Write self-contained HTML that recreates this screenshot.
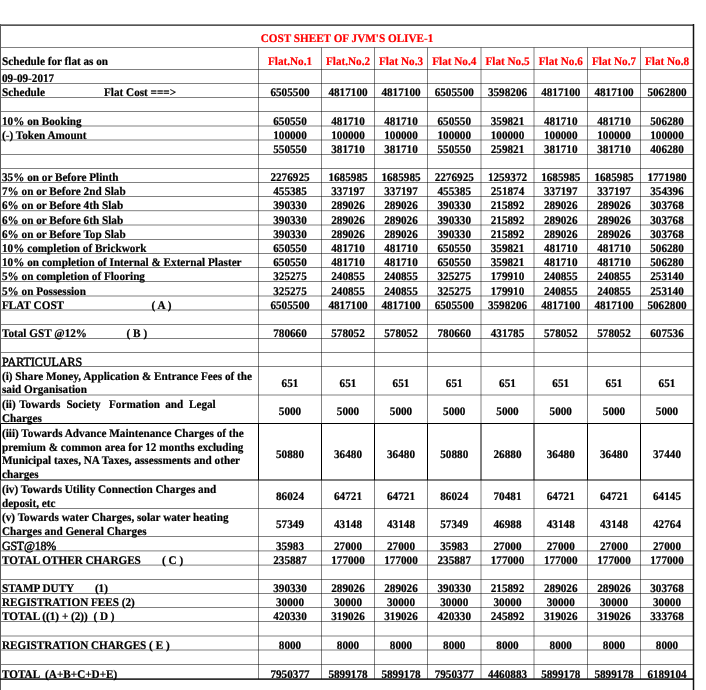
<!DOCTYPE html>
<html><head><meta charset="utf-8"><style>
html,body{margin:0;padding:0;background:#fff;}
body{width:706px;height:690px;position:relative;overflow:hidden;font-family:"Liberation Serif",serif;font-weight:bold;font-size:11.2px;line-height:14.0px;color:#000;}
.t,.c{position:absolute;white-space:pre;text-rendering:geometricPrecision;transform:scaleY(1.04);transform-origin:0 10px;}
.c{text-align:center;}
.t,.c{-webkit-text-stroke:0.2px currentColor;}
.n{font-weight:normal;font-size:12px;-webkit-text-stroke:0.45px #000;}
.r{color:#f00;}
svg{position:absolute;left:0;top:0;}
#w{position:absolute;left:0;top:0;width:706px;height:690px;will-change:transform;}
</style></head><body>
<div id="w">
<svg width="706" height="690" viewBox="0 0 706 690">
<line x1="0.5" y1="47.5" x2="693.5" y2="47.5" stroke="#000" stroke-width="0.5"/>
<line x1="0.5" y1="69.5" x2="693.5" y2="69.5" stroke="#000" stroke-width="0.5"/>
<line x1="0.5" y1="83.5" x2="693.5" y2="83.5" stroke="#000" stroke-width="0.5"/>
<line x1="0.5" y1="97.5" x2="693.5" y2="97.5" stroke="#000" stroke-width="0.5"/>
<line x1="0.5" y1="111.5" x2="693.5" y2="111.5" stroke="#000" stroke-width="0.5"/>
<line x1="0.5" y1="126.0" x2="693.5" y2="126.0" stroke="#000" stroke-width="0.5"/>
<line x1="0.5" y1="140.0" x2="693.5" y2="140.0" stroke="#000" stroke-width="0.5"/>
<line x1="0.5" y1="154.5" x2="693.5" y2="154.5" stroke="#000" stroke-width="0.5"/>
<line x1="0.5" y1="168.5" x2="693.5" y2="168.5" stroke="#000" stroke-width="0.5"/>
<line x1="0.5" y1="182.5" x2="693.5" y2="182.5" stroke="#000" stroke-width="0.5"/>
<line x1="0.5" y1="196.5" x2="693.5" y2="196.5" stroke="#000" stroke-width="0.5"/>
<line x1="0.5" y1="210.7" x2="693.5" y2="210.7" stroke="#000" stroke-width="0.5"/>
<line x1="0.5" y1="225.0" x2="693.5" y2="225.0" stroke="#000" stroke-width="0.5"/>
<line x1="0.5" y1="239.5" x2="693.5" y2="239.5" stroke="#000" stroke-width="0.5"/>
<line x1="0.5" y1="253.5" x2="693.5" y2="253.5" stroke="#000" stroke-width="0.5"/>
<line x1="0.5" y1="267.5" x2="693.5" y2="267.5" stroke="#000" stroke-width="0.5"/>
<line x1="0.5" y1="281.5" x2="693.5" y2="281.5" stroke="#000" stroke-width="0.5"/>
<line x1="0.5" y1="296.0" x2="693.5" y2="296.0" stroke="#000" stroke-width="0.5"/>
<line x1="0.5" y1="310.0" x2="693.5" y2="310.0" stroke="#000" stroke-width="0.5"/>
<line x1="0.5" y1="324.5" x2="693.5" y2="324.5" stroke="#000" stroke-width="0.5"/>
<line x1="0.5" y1="338.5" x2="693.5" y2="338.5" stroke="#000" stroke-width="0.5"/>
<line x1="0.5" y1="352.5" x2="693.5" y2="352.5" stroke="#000" stroke-width="0.5"/>
<line x1="0.5" y1="366.5" x2="693.5" y2="366.5" stroke="#000" stroke-width="0.5"/>
<line x1="0.5" y1="395.0" x2="693.5" y2="395.0" stroke="#000" stroke-width="0.5"/>
<line x1="0.5" y1="423.5" x2="693.5" y2="423.5" stroke="#000" stroke-width="1.0"/>
<line x1="0.5" y1="480.0" x2="693.5" y2="480.0" stroke="#000" stroke-width="1.0"/>
<line x1="0.5" y1="508.5" x2="693.5" y2="508.5" stroke="#000" stroke-width="0.5"/>
<line x1="0.5" y1="536.5" x2="693.5" y2="536.5" stroke="#000" stroke-width="0.5"/>
<line x1="0.5" y1="550.9" x2="693.5" y2="550.9" stroke="#000" stroke-width="0.5"/>
<line x1="0.5" y1="565.1" x2="693.5" y2="565.1" stroke="#000" stroke-width="0.5"/>
<line x1="0.5" y1="579.5" x2="693.5" y2="579.5" stroke="#000" stroke-width="0.5"/>
<line x1="0.5" y1="593.5" x2="693.5" y2="593.5" stroke="#000" stroke-width="0.5"/>
<line x1="0.5" y1="607.5" x2="693.5" y2="607.5" stroke="#000" stroke-width="0.5"/>
<line x1="0.5" y1="621.5" x2="693.5" y2="621.5" stroke="#000" stroke-width="0.5"/>
<line x1="0.5" y1="636.0" x2="693.5" y2="636.0" stroke="#000" stroke-width="0.5"/>
<line x1="0.5" y1="650.0" x2="693.5" y2="650.0" stroke="#000" stroke-width="0.5"/>
<line x1="0.5" y1="664.5" x2="693.5" y2="664.5" stroke="#000" stroke-width="0.5"/>
<line x1="258.5" y1="47.5" x2="258.5" y2="423.5" stroke="#000" stroke-width="0.5"/>
<line x1="258.5" y1="423.5" x2="258.5" y2="480.0" stroke="#000" stroke-width="1.0"/>
<line x1="258.5" y1="480.0" x2="258.5" y2="679.1" stroke="#000" stroke-width="0.5"/>
<line x1="321.5" y1="47.5" x2="321.5" y2="423.5" stroke="#000" stroke-width="0.5"/>
<line x1="321.5" y1="423.5" x2="321.5" y2="480.0" stroke="#000" stroke-width="1.0"/>
<line x1="321.5" y1="480.0" x2="321.5" y2="679.1" stroke="#000" stroke-width="0.5"/>
<line x1="374.5" y1="47.5" x2="374.5" y2="423.5" stroke="#000" stroke-width="0.5"/>
<line x1="374.5" y1="423.5" x2="374.5" y2="480.0" stroke="#000" stroke-width="1.0"/>
<line x1="374.5" y1="480.0" x2="374.5" y2="679.1" stroke="#000" stroke-width="0.5"/>
<line x1="427.5" y1="47.5" x2="427.5" y2="423.5" stroke="#000" stroke-width="0.5"/>
<line x1="427.5" y1="423.5" x2="427.5" y2="480.0" stroke="#000" stroke-width="1.0"/>
<line x1="427.5" y1="480.0" x2="427.5" y2="679.1" stroke="#000" stroke-width="0.5"/>
<line x1="481.0" y1="47.5" x2="481.0" y2="423.5" stroke="#000" stroke-width="0.5"/>
<line x1="481.0" y1="423.5" x2="481.0" y2="480.0" stroke="#000" stroke-width="1.0"/>
<line x1="481.0" y1="480.0" x2="481.0" y2="679.1" stroke="#000" stroke-width="0.5"/>
<line x1="534.0" y1="47.5" x2="534.0" y2="423.5" stroke="#000" stroke-width="0.5"/>
<line x1="534.0" y1="423.5" x2="534.0" y2="480.0" stroke="#000" stroke-width="1.0"/>
<line x1="534.0" y1="480.0" x2="534.0" y2="679.1" stroke="#000" stroke-width="0.5"/>
<line x1="587.5" y1="47.5" x2="587.5" y2="423.5" stroke="#000" stroke-width="0.5"/>
<line x1="587.5" y1="423.5" x2="587.5" y2="480.0" stroke="#000" stroke-width="1.0"/>
<line x1="587.5" y1="480.0" x2="587.5" y2="679.1" stroke="#000" stroke-width="0.5"/>
<line x1="640.5" y1="47.5" x2="640.5" y2="423.5" stroke="#000" stroke-width="0.5"/>
<line x1="640.5" y1="423.5" x2="640.5" y2="480.0" stroke="#000" stroke-width="1.0"/>
<line x1="640.5" y1="480.0" x2="640.5" y2="679.1" stroke="#000" stroke-width="0.5"/>
<rect x="0" y="24" width="693.5" height="1" fill="#8a8a8a"/>
<rect x="0" y="25" width="693.5" height="1" fill="#555"/>
<rect x="0" y="24" width="1" height="666" fill="#5a5a5a"/>
<rect x="692.75" y="24" width="1.5" height="666" fill="#111"/>
<rect x="0" y="678.4" width="693.5" height="1.4" fill="#000"/>
<rect x="0" y="423.5" width="1" height="56.5" fill="#000"/>
</svg>
<div class="t r" style="left:260.7px;top:31.75px">COST SHEET OF JVM'S OLIVE-1</div>
<div class="t" style="left:2.0px;top:54.75px">Schedule for flat as on</div>
<div class="c r" style="left:258.5px;width:63.0px;top:54.75px">Flat.No.1</div>
<div class="c r" style="left:321.5px;width:53.0px;top:54.75px">Flat.No.2</div>
<div class="c r" style="left:374.5px;width:53.0px;top:54.75px">Flat No.3</div>
<div class="c r" style="left:427.5px;width:53.5px;top:54.75px">Flat No.4</div>
<div class="c r" style="left:481.0px;width:53.0px;top:54.75px">Flat No.5</div>
<div class="c r" style="left:534.0px;width:53.5px;top:54.75px">Flat No.6</div>
<div class="c r" style="left:587.5px;width:53.0px;top:54.75px">Flat No.7</div>
<div class="c r" style="left:640.5px;width:53.0px;top:54.75px">Flat No.8</div>
<div class="t" style="left:2.0px;top:71.75px">09-09-2017</div>
<div class="t" style="left:2.0px;top:85.75px">Schedule</div>
<div class="t" style="left:104px;top:85.75px">Flat Cost ===&gt;</div>
<div class="c" style="left:258.5px;width:63.0px;top:85.75px">6505500</div>
<div class="c" style="left:321.5px;width:53.0px;top:85.75px">4817100</div>
<div class="c" style="left:374.5px;width:53.0px;top:85.75px">4817100</div>
<div class="c" style="left:427.5px;width:53.5px;top:85.75px">6505500</div>
<div class="c" style="left:481.0px;width:53.0px;top:85.75px">3598206</div>
<div class="c" style="left:534.0px;width:53.5px;top:85.75px">4817100</div>
<div class="c" style="left:587.5px;width:53.0px;top:85.75px">4817100</div>
<div class="c" style="left:640.5px;width:53.0px;top:85.75px">5062800</div>
<div class="t" style="left:2.0px;top:114.75px">10% on Booking</div>
<div class="c" style="left:258.5px;width:63.0px;top:114.75px">650550</div>
<div class="c" style="left:321.5px;width:53.0px;top:114.75px">481710</div>
<div class="c" style="left:374.5px;width:53.0px;top:114.75px">481710</div>
<div class="c" style="left:427.5px;width:53.5px;top:114.75px">650550</div>
<div class="c" style="left:481.0px;width:53.0px;top:114.75px">359821</div>
<div class="c" style="left:534.0px;width:53.5px;top:114.75px">481710</div>
<div class="c" style="left:587.5px;width:53.0px;top:114.75px">481710</div>
<div class="c" style="left:640.5px;width:53.0px;top:114.75px">506280</div>
<div class="t" style="left:2.0px;top:128.75px">(-) Token Amount</div>
<div class="c" style="left:258.5px;width:63.0px;top:128.75px">100000</div>
<div class="c" style="left:321.5px;width:53.0px;top:128.75px">100000</div>
<div class="c" style="left:374.5px;width:53.0px;top:128.75px">100000</div>
<div class="c" style="left:427.5px;width:53.5px;top:128.75px">100000</div>
<div class="c" style="left:481.0px;width:53.0px;top:128.75px">100000</div>
<div class="c" style="left:534.0px;width:53.5px;top:128.75px">100000</div>
<div class="c" style="left:587.5px;width:53.0px;top:128.75px">100000</div>
<div class="c" style="left:640.5px;width:53.0px;top:128.75px">100000</div>
<div class="c" style="left:258.5px;width:63.0px;top:142.75px">550550</div>
<div class="c" style="left:321.5px;width:53.0px;top:142.75px">381710</div>
<div class="c" style="left:374.5px;width:53.0px;top:142.75px">381710</div>
<div class="c" style="left:427.5px;width:53.5px;top:142.75px">550550</div>
<div class="c" style="left:481.0px;width:53.0px;top:142.75px">259821</div>
<div class="c" style="left:534.0px;width:53.5px;top:142.75px">381710</div>
<div class="c" style="left:587.5px;width:53.0px;top:142.75px">381710</div>
<div class="c" style="left:640.5px;width:53.0px;top:142.75px">406280</div>
<div class="t" style="left:2.0px;top:170.75px">35% on or Before Plinth</div>
<div class="c" style="left:258.5px;width:63.0px;top:170.75px">2276925</div>
<div class="c" style="left:321.5px;width:53.0px;top:170.75px">1685985</div>
<div class="c" style="left:374.5px;width:53.0px;top:170.75px">1685985</div>
<div class="c" style="left:427.5px;width:53.5px;top:170.75px">2276925</div>
<div class="c" style="left:481.0px;width:53.0px;top:170.75px">1259372</div>
<div class="c" style="left:534.0px;width:53.5px;top:170.75px">1685985</div>
<div class="c" style="left:587.5px;width:53.0px;top:170.75px">1685985</div>
<div class="c" style="left:640.5px;width:53.0px;top:170.75px">1771980</div>
<div class="t" style="left:2.0px;top:184.75px">7% on or Before 2nd Slab</div>
<div class="c" style="left:258.5px;width:63.0px;top:184.75px">455385</div>
<div class="c" style="left:321.5px;width:53.0px;top:184.75px">337197</div>
<div class="c" style="left:374.5px;width:53.0px;top:184.75px">337197</div>
<div class="c" style="left:427.5px;width:53.5px;top:184.75px">455385</div>
<div class="c" style="left:481.0px;width:53.0px;top:184.75px">251874</div>
<div class="c" style="left:534.0px;width:53.5px;top:184.75px">337197</div>
<div class="c" style="left:587.5px;width:53.0px;top:184.75px">337197</div>
<div class="c" style="left:640.5px;width:53.0px;top:184.75px">354396</div>
<div class="t" style="left:2.0px;top:198.75px">6% on or Before 4th Slab</div>
<div class="c" style="left:258.5px;width:63.0px;top:198.75px">390330</div>
<div class="c" style="left:321.5px;width:53.0px;top:198.75px">289026</div>
<div class="c" style="left:374.5px;width:53.0px;top:198.75px">289026</div>
<div class="c" style="left:427.5px;width:53.5px;top:198.75px">390330</div>
<div class="c" style="left:481.0px;width:53.0px;top:198.75px">215892</div>
<div class="c" style="left:534.0px;width:53.5px;top:198.75px">289026</div>
<div class="c" style="left:587.5px;width:53.0px;top:198.75px">289026</div>
<div class="c" style="left:640.5px;width:53.0px;top:198.75px">303768</div>
<div class="t" style="left:2.0px;top:213.75px">6% on or Before 6th Slab</div>
<div class="c" style="left:258.5px;width:63.0px;top:213.75px">390330</div>
<div class="c" style="left:321.5px;width:53.0px;top:213.75px">289026</div>
<div class="c" style="left:374.5px;width:53.0px;top:213.75px">289026</div>
<div class="c" style="left:427.5px;width:53.5px;top:213.75px">390330</div>
<div class="c" style="left:481.0px;width:53.0px;top:213.75px">215892</div>
<div class="c" style="left:534.0px;width:53.5px;top:213.75px">289026</div>
<div class="c" style="left:587.5px;width:53.0px;top:213.75px">289026</div>
<div class="c" style="left:640.5px;width:53.0px;top:213.75px">303768</div>
<div class="t" style="left:2.0px;top:227.75px">6% on or Before Top Slab</div>
<div class="c" style="left:258.5px;width:63.0px;top:227.75px">390330</div>
<div class="c" style="left:321.5px;width:53.0px;top:227.75px">289026</div>
<div class="c" style="left:374.5px;width:53.0px;top:227.75px">289026</div>
<div class="c" style="left:427.5px;width:53.5px;top:227.75px">390330</div>
<div class="c" style="left:481.0px;width:53.0px;top:227.75px">215892</div>
<div class="c" style="left:534.0px;width:53.5px;top:227.75px">289026</div>
<div class="c" style="left:587.5px;width:53.0px;top:227.75px">289026</div>
<div class="c" style="left:640.5px;width:53.0px;top:227.75px">303768</div>
<div class="t" style="left:2.0px;top:241.75px">10% completion of Brickwork</div>
<div class="c" style="left:258.5px;width:63.0px;top:241.75px">650550</div>
<div class="c" style="left:321.5px;width:53.0px;top:241.75px">481710</div>
<div class="c" style="left:374.5px;width:53.0px;top:241.75px">481710</div>
<div class="c" style="left:427.5px;width:53.5px;top:241.75px">650550</div>
<div class="c" style="left:481.0px;width:53.0px;top:241.75px">359821</div>
<div class="c" style="left:534.0px;width:53.5px;top:241.75px">481710</div>
<div class="c" style="left:587.5px;width:53.0px;top:241.75px">481710</div>
<div class="c" style="left:640.5px;width:53.0px;top:241.75px">506280</div>
<div class="t" style="left:2.0px;top:255.75px">10% on completion of Internal &amp; External Plaster</div>
<div class="c" style="left:258.5px;width:63.0px;top:255.75px">650550</div>
<div class="c" style="left:321.5px;width:53.0px;top:255.75px">481710</div>
<div class="c" style="left:374.5px;width:53.0px;top:255.75px">481710</div>
<div class="c" style="left:427.5px;width:53.5px;top:255.75px">650550</div>
<div class="c" style="left:481.0px;width:53.0px;top:255.75px">359821</div>
<div class="c" style="left:534.0px;width:53.5px;top:255.75px">481710</div>
<div class="c" style="left:587.5px;width:53.0px;top:255.75px">481710</div>
<div class="c" style="left:640.5px;width:53.0px;top:255.75px">506280</div>
<div class="t" style="left:2.0px;top:269.75px">5% on completion of Flooring</div>
<div class="c" style="left:258.5px;width:63.0px;top:269.75px">325275</div>
<div class="c" style="left:321.5px;width:53.0px;top:269.75px">240855</div>
<div class="c" style="left:374.5px;width:53.0px;top:269.75px">240855</div>
<div class="c" style="left:427.5px;width:53.5px;top:269.75px">325275</div>
<div class="c" style="left:481.0px;width:53.0px;top:269.75px">179910</div>
<div class="c" style="left:534.0px;width:53.5px;top:269.75px">240855</div>
<div class="c" style="left:587.5px;width:53.0px;top:269.75px">240855</div>
<div class="c" style="left:640.5px;width:53.0px;top:269.75px">253140</div>
<div class="t" style="left:2.0px;top:284.75px">5% on Possession</div>
<div class="c" style="left:258.5px;width:63.0px;top:284.75px">325275</div>
<div class="c" style="left:321.5px;width:53.0px;top:284.75px">240855</div>
<div class="c" style="left:374.5px;width:53.0px;top:284.75px">240855</div>
<div class="c" style="left:427.5px;width:53.5px;top:284.75px">325275</div>
<div class="c" style="left:481.0px;width:53.0px;top:284.75px">179910</div>
<div class="c" style="left:534.0px;width:53.5px;top:284.75px">240855</div>
<div class="c" style="left:587.5px;width:53.0px;top:284.75px">240855</div>
<div class="c" style="left:640.5px;width:53.0px;top:284.75px">253140</div>
<div class="t" style="left:2.0px;top:298.75px">FLAT COST</div>
<div class="t" style="left:151.6px;top:298.75px">( A )</div>
<div class="c" style="left:258.5px;width:63.0px;top:298.75px">6505500</div>
<div class="c" style="left:321.5px;width:53.0px;top:298.75px">4817100</div>
<div class="c" style="left:374.5px;width:53.0px;top:298.75px">4817100</div>
<div class="c" style="left:427.5px;width:53.5px;top:298.75px">6505500</div>
<div class="c" style="left:481.0px;width:53.0px;top:298.75px">3598206</div>
<div class="c" style="left:534.0px;width:53.5px;top:298.75px">4817100</div>
<div class="c" style="left:587.5px;width:53.0px;top:298.75px">4817100</div>
<div class="c" style="left:640.5px;width:53.0px;top:298.75px">5062800</div>
<div class="t" style="left:2.0px;top:326.75px">Total GST @12%</div>
<div class="t" style="left:126.6px;top:326.75px">( B )</div>
<div class="c" style="left:258.5px;width:63.0px;top:326.75px">780660</div>
<div class="c" style="left:321.5px;width:53.0px;top:326.75px">578052</div>
<div class="c" style="left:374.5px;width:53.0px;top:326.75px">578052</div>
<div class="c" style="left:427.5px;width:53.5px;top:326.75px">780660</div>
<div class="c" style="left:481.0px;width:53.0px;top:326.75px">431785</div>
<div class="c" style="left:534.0px;width:53.5px;top:326.75px">578052</div>
<div class="c" style="left:587.5px;width:53.0px;top:326.75px">578052</div>
<div class="c" style="left:640.5px;width:53.0px;top:326.75px">607536</div>
<div class="t n" style="left:2.0px;top:354.75px">PARTICULARS</div>
<div class="t" style="left:2.0px;top:369.75px">(i) Share Money, Application &amp; Entrance Fees of the</div>
<div class="t" style="left:2.0px;top:382.75px">said Organisation</div>
<div class="c" style="left:258.5px;width:63.0px;top:376.75px">651</div>
<div class="c" style="left:321.5px;width:53.0px;top:376.75px">651</div>
<div class="c" style="left:374.5px;width:53.0px;top:376.75px">651</div>
<div class="c" style="left:427.5px;width:53.5px;top:376.75px">651</div>
<div class="c" style="left:481.0px;width:53.0px;top:376.75px">651</div>
<div class="c" style="left:534.0px;width:53.5px;top:376.75px">651</div>
<div class="c" style="left:587.5px;width:53.0px;top:376.75px">651</div>
<div class="c" style="left:640.5px;width:53.0px;top:376.75px">651</div>
<div class="t" style="left:2.0px;top:397.75px">(ii)</div>
<div class="t" style="left:19.2px;top:397.75px">Towards</div>
<div class="t" style="left:66.4px;top:397.75px">Society</div>
<div class="t" style="left:109.0px;top:397.75px">Formation</div>
<div class="t" style="left:165.2px;top:397.75px">and</div>
<div class="t" style="left:189.0px;top:397.75px">Legal</div>
<div class="t" style="left:2.0px;top:411.75px">Charges</div>
<div class="c" style="left:258.5px;width:63.0px;top:404.75px">5000</div>
<div class="c" style="left:321.5px;width:53.0px;top:404.75px">5000</div>
<div class="c" style="left:374.5px;width:53.0px;top:404.75px">5000</div>
<div class="c" style="left:427.5px;width:53.5px;top:404.75px">5000</div>
<div class="c" style="left:481.0px;width:53.0px;top:404.75px">5000</div>
<div class="c" style="left:534.0px;width:53.5px;top:404.75px">5000</div>
<div class="c" style="left:587.5px;width:53.0px;top:404.75px">5000</div>
<div class="c" style="left:640.5px;width:53.0px;top:404.75px">5000</div>
<div class="t" style="left:2.0px;top:426.75px">(iii) Towards Advance Maintenance Charges of the</div>
<div class="t" style="left:2.0px;top:440.75px">premium &amp; common area for 12 months excluding</div>
<div class="t" style="left:2.0px;top:453.75px">Municipal taxes, NA Taxes, assessments and other</div>
<div class="t" style="left:2.0px;top:467.75px">charges</div>
<div class="c" style="left:258.5px;width:63.0px;top:447.75px">50880</div>
<div class="c" style="left:321.5px;width:53.0px;top:447.75px">36480</div>
<div class="c" style="left:374.5px;width:53.0px;top:447.75px">36480</div>
<div class="c" style="left:427.5px;width:53.5px;top:447.75px">50880</div>
<div class="c" style="left:481.0px;width:53.0px;top:447.75px">26880</div>
<div class="c" style="left:534.0px;width:53.5px;top:447.75px">36480</div>
<div class="c" style="left:587.5px;width:53.0px;top:447.75px">36480</div>
<div class="c" style="left:640.5px;width:53.0px;top:447.75px">37440</div>
<div class="t" style="left:2.0px;top:482.75px">(iv) Towards Utility Connection Charges and</div>
<div class="t" style="left:2.0px;top:496.75px">deposit, etc</div>
<div class="c" style="left:258.5px;width:63.0px;top:489.75px">86024</div>
<div class="c" style="left:321.5px;width:53.0px;top:489.75px">64721</div>
<div class="c" style="left:374.5px;width:53.0px;top:489.75px">64721</div>
<div class="c" style="left:427.5px;width:53.5px;top:489.75px">86024</div>
<div class="c" style="left:481.0px;width:53.0px;top:489.75px">70481</div>
<div class="c" style="left:534.0px;width:53.5px;top:489.75px">64721</div>
<div class="c" style="left:587.5px;width:53.0px;top:489.75px">64721</div>
<div class="c" style="left:640.5px;width:53.0px;top:489.75px">64145</div>
<div class="t" style="left:2.0px;top:510.75px">(v) Towards water Charges, solar water heating</div>
<div class="t" style="left:2.0px;top:524.75px">Charges and General Charges</div>
<div class="c" style="left:258.5px;width:63.0px;top:517.75px">57349</div>
<div class="c" style="left:321.5px;width:53.0px;top:517.75px">43148</div>
<div class="c" style="left:374.5px;width:53.0px;top:517.75px">43148</div>
<div class="c" style="left:427.5px;width:53.5px;top:517.75px">57349</div>
<div class="c" style="left:481.0px;width:53.0px;top:517.75px">46988</div>
<div class="c" style="left:534.0px;width:53.5px;top:517.75px">43148</div>
<div class="c" style="left:587.5px;width:53.0px;top:517.75px">43148</div>
<div class="c" style="left:640.5px;width:53.0px;top:517.75px">42764</div>
<div class="t n" style="left:2.0px;top:538.75px;letter-spacing:-0.25px">GST@18%</div>
<div class="c" style="left:258.5px;width:63.0px;top:539.75px">35983</div>
<div class="c" style="left:321.5px;width:53.0px;top:539.75px">27000</div>
<div class="c" style="left:374.5px;width:53.0px;top:539.75px">27000</div>
<div class="c" style="left:427.5px;width:53.5px;top:539.75px">35983</div>
<div class="c" style="left:481.0px;width:53.0px;top:539.75px">27000</div>
<div class="c" style="left:534.0px;width:53.5px;top:539.75px">27000</div>
<div class="c" style="left:587.5px;width:53.0px;top:539.75px">27000</div>
<div class="c" style="left:640.5px;width:53.0px;top:539.75px">27000</div>
<div class="t" style="left:2.0px;top:553.75px">TOTAL OTHER CHARGES</div>
<div class="t" style="left:162px;top:553.75px">( C )</div>
<div class="c" style="left:258.5px;width:63.0px;top:553.75px">235887</div>
<div class="c" style="left:321.5px;width:53.0px;top:553.75px">177000</div>
<div class="c" style="left:374.5px;width:53.0px;top:553.75px">177000</div>
<div class="c" style="left:427.5px;width:53.5px;top:553.75px">235887</div>
<div class="c" style="left:481.0px;width:53.0px;top:553.75px">177000</div>
<div class="c" style="left:534.0px;width:53.5px;top:553.75px">177000</div>
<div class="c" style="left:587.5px;width:53.0px;top:553.75px">177000</div>
<div class="c" style="left:640.5px;width:53.0px;top:553.75px">177000</div>
<div class="t" style="left:2.0px;top:581.75px">STAMP DUTY</div>
<div class="t" style="left:94.9px;top:581.75px">(1)</div>
<div class="c" style="left:258.5px;width:63.0px;top:581.75px">390330</div>
<div class="c" style="left:321.5px;width:53.0px;top:581.75px">289026</div>
<div class="c" style="left:374.5px;width:53.0px;top:581.75px">289026</div>
<div class="c" style="left:427.5px;width:53.5px;top:581.75px">390330</div>
<div class="c" style="left:481.0px;width:53.0px;top:581.75px">215892</div>
<div class="c" style="left:534.0px;width:53.5px;top:581.75px">289026</div>
<div class="c" style="left:587.5px;width:53.0px;top:581.75px">289026</div>
<div class="c" style="left:640.5px;width:53.0px;top:581.75px">303768</div>
<div class="t" style="left:2.0px;top:595.75px">REGISTRATION FEES (2)</div>
<div class="c" style="left:258.5px;width:63.0px;top:595.75px">30000</div>
<div class="c" style="left:321.5px;width:53.0px;top:595.75px">30000</div>
<div class="c" style="left:374.5px;width:53.0px;top:595.75px">30000</div>
<div class="c" style="left:427.5px;width:53.5px;top:595.75px">30000</div>
<div class="c" style="left:481.0px;width:53.0px;top:595.75px">30000</div>
<div class="c" style="left:534.0px;width:53.5px;top:595.75px">30000</div>
<div class="c" style="left:587.5px;width:53.0px;top:595.75px">30000</div>
<div class="c" style="left:640.5px;width:53.0px;top:595.75px">30000</div>
<div class="t" style="left:2.0px;top:609.75px">TOTAL ((1) + (2))  ( D )</div>
<div class="c" style="left:258.5px;width:63.0px;top:609.75px">420330</div>
<div class="c" style="left:321.5px;width:53.0px;top:609.75px">319026</div>
<div class="c" style="left:374.5px;width:53.0px;top:609.75px">319026</div>
<div class="c" style="left:427.5px;width:53.5px;top:609.75px">420330</div>
<div class="c" style="left:481.0px;width:53.0px;top:609.75px">245892</div>
<div class="c" style="left:534.0px;width:53.5px;top:609.75px">319026</div>
<div class="c" style="left:587.5px;width:53.0px;top:609.75px">319026</div>
<div class="c" style="left:640.5px;width:53.0px;top:609.75px">333768</div>
<div class="t" style="left:2.0px;top:638.75px">REGISTRATION CHARGES ( E )</div>
<div class="c" style="left:258.5px;width:63.0px;top:638.75px">8000</div>
<div class="c" style="left:321.5px;width:53.0px;top:638.75px">8000</div>
<div class="c" style="left:374.5px;width:53.0px;top:638.75px">8000</div>
<div class="c" style="left:427.5px;width:53.5px;top:638.75px">8000</div>
<div class="c" style="left:481.0px;width:53.0px;top:638.75px">8000</div>
<div class="c" style="left:534.0px;width:53.5px;top:638.75px">8000</div>
<div class="c" style="left:587.5px;width:53.0px;top:638.75px">8000</div>
<div class="c" style="left:640.5px;width:53.0px;top:638.75px">8000</div>
<div class="t" style="left:2.0px;top:667.75px">TOTAL  (A+B+C+D+E)</div>
<div class="c" style="left:258.5px;width:63.0px;top:667.75px">7950377</div>
<div class="c" style="left:321.5px;width:53.0px;top:667.75px">5899178</div>
<div class="c" style="left:374.5px;width:53.0px;top:667.75px">5899178</div>
<div class="c" style="left:427.5px;width:53.5px;top:667.75px">7950377</div>
<div class="c" style="left:481.0px;width:53.0px;top:667.75px">4460883</div>
<div class="c" style="left:534.0px;width:53.5px;top:667.75px">5899178</div>
<div class="c" style="left:587.5px;width:53.0px;top:667.75px">5899178</div>
<div class="c" style="left:640.5px;width:53.0px;top:667.75px">6189104</div>
</div></body></html>
